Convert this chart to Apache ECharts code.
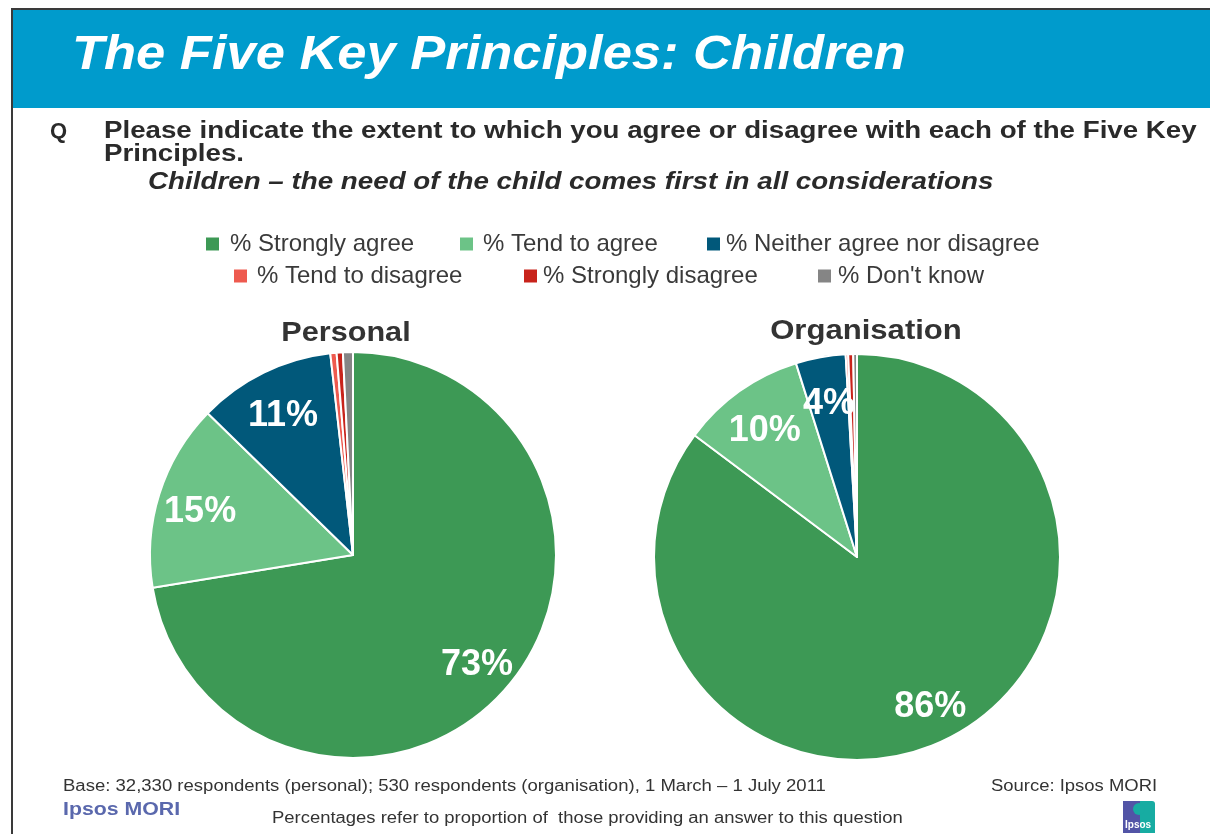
<!DOCTYPE html>
<html>
<head>
<meta charset="utf-8">
<script src="https://cdn.jsdelivr.net/npm/echarts@6/dist/echarts.min.js"></script>
<style>
  html, body { margin: 0; padding: 0; background: #fff; }
  #chart { width: 1210px; height: 834px; }
</style>
</head>
<body>
<div id="chart"></div>
<script>
// Answer categories (legend order)
const categories = [
  '% Strongly agree',
  '% Tend to agree',
  '% Neither agree nor disagree',
  '% Tend to disagree',
  '% Strongly disagree',
  "% Don't know"
];
// Share of answers, %
const personalValues = [73, 15, 11, 0.5, 0.5, 0.8];
const organisationValues = [86, 10, 4, 0.2, 0.4, 0.3];
const pieTitles = ['Personal', 'Organisation'];

const colors = ['#3d9955', '#6cc387', '#01587a', '#ee5a4f', '#c8231b', '#858585'];
const FONT = '"Liberation Sans", Arial, Helvetica, sans-serif';

const chart = echarts.init(document.getElementById('chart'), null, { renderer: 'canvas' });

function toData(values) {
  return categories.map((name, i) => ({ name, value: values[i] }));
}

const R = 203;
const centers = [[353, 555], [857, 557]];

function pieSeries(values, center) {
  return {
    type: 'pie',
    center: center,
    radius: [0, R],
    startAngle: 90,
    clockwise: true,
    animation: false,
    silent: true,
    label: { show: false },
    labelLine: { show: false },
    itemStyle: { borderColor: '#ffffff', borderWidth: 2 },
    data: toData(values)
  };
}

// Label ring: same slices, transparent, so value labels sit further out from the centre
function labelSeries(values, center) {
  return {
    type: 'pie',
    center: center,
    radius: [R * 0.56, R],
    startAngle: 90,
    clockwise: true,
    animation: false,
    silent: true,
    itemStyle: { color: 'rgba(0,0,0,0)', borderWidth: 0 },
    label: {
      show: true,
      position: 'inside',
      offset: [1, 6],
      formatter: p => (p.value >= 2 ? Math.round(p.value) + '%' : ''),
      color: '#ffffff',
      fontFamily: FONT,
      fontWeight: 'bold',
      fontSize: 36
    },
    labelLine: { show: false },
    data: toData(values)
  };
}

// One legend block per item, laid out in two rows
const legendPos = [
  { left: 204, top: 232, gap: 5 },
  { left: 458, top: 232, gap: 4 },
  { left: 705, top: 232, gap: 0 },
  { left: 232, top: 264, gap: 4 },
  { left: 522, top: 264, gap: 0 },
  { left: 816, top: 264, gap: 1 }
];
const legends = categories.map((name, i) => ({
  data: [name],
  left: legendPos[i].left,
  top: legendPos[i].top,
  orient: 'horizontal',
  itemWidth: 15,
  itemHeight: 15,
  icon: 'rect',
  selectedMode: false,
  padding: 0,
  textStyle: { fontFamily: FONT, fontSize: 24, color: '#3a3a3a', padding: [0, 0, 0, legendPos[i].gap] }
}));

// Text helper: anchored at (x, y), optionally widened
function txt(x, y, text, font, fill, scaleX, align) {
  return {
    type: 'text', x: x, y: y, scaleX: scaleX || 1, silent: true,
    style: { text: text, font: font, fill: fill, align: align || 'left', verticalAlign: 'top' }
  };
}

const option = {
  color: colors,
  backgroundColor: '#ffffff',
  legend: legends,
  series: [
    pieSeries(personalValues, centers[0]),
    pieSeries(organisationValues, centers[1]),
    labelSeries(personalValues, centers[0]),
    labelSeries(organisationValues, centers[1])
  ],
  graphic: [
    // header band and frame
    { type: 'rect', shape: { x: 12, y: 9, width: 1198, height: 99 }, style: { fill: '#009bcc' }, silent: true },
    { type: 'line', shape: { x1: 11, y1: 9, x2: 1210, y2: 9 }, style: { stroke: '#3a3a3a', lineWidth: 2 }, silent: true },
    { type: 'line', shape: { x1: 12, y1: 8, x2: 12, y2: 834 }, style: { stroke: '#3a3a3a', lineWidth: 2 }, silent: true },
    txt(72, 32, 'The Five Key Principles: Children', 'italic bold 48px ' + FONT, '#ffffff', 1.093),
    // question
    txt(50, 121, 'Q', 'bold 22px ' + FONT, '#2a2a2a'),
    txt(104, 120, 'Please indicate the extent to which you agree or disagree with each of the Five Key', 'bold 23px ' + FONT, '#2a2a2a', 1.204),
    txt(104, 143, 'Principles.', 'bold 23px ' + FONT, '#2a2a2a', 1.204),
    txt(148, 171, 'Children \u2013 the need of the child comes first in all considerations', 'italic bold 23px ' + FONT, '#2a2a2a', 1.207),
    // pie titles
    txt(346, 319, pieTitles[0], 'bold 28px ' + FONT, '#333333', 1.093, 'center'),
    txt(866, 317, pieTitles[1], 'bold 28px ' + FONT, '#333333', 1.11, 'center'),
    // footer
    txt(63, 779, 'Base: 32,330 respondents (personal); 530 respondents (organisation), 1 March \u2013 1 July 2011', '16px ' + FONT, '#333333', 1.158),
    txt(991, 779, 'Source: Ipsos MORI', '16px ' + FONT, '#333333', 1.153),
    txt(63, 800, 'Ipsos MORI', 'bold 19px ' + FONT, '#5a68ad', 1.12),
    txt(272, 811, 'Percentages refer to proportion of  those providing an answer to this question', '16px ' + FONT, '#333333', 1.153),
    // Ipsos badge
    { type: 'rect', shape: { x: 1123, y: 801, width: 17, height: 32 }, style: { fill: '#5254a6' }, silent: true },
    { type: 'rect', shape: { x: 1140, y: 801, width: 15, height: 32, r: [0, 3, 0, 0] }, style: { fill: '#17aca2' }, silent: true },
    { type: 'circle', shape: { cx: 1139, cy: 809, r: 6 }, style: { fill: '#17aca2' }, silent: true },
    txt(1125, 820, 'Ipsos', 'bold 10px ' + FONT, '#ffffff')
  ]
};

chart.setOption(option);
</script>
</body>
</html>
